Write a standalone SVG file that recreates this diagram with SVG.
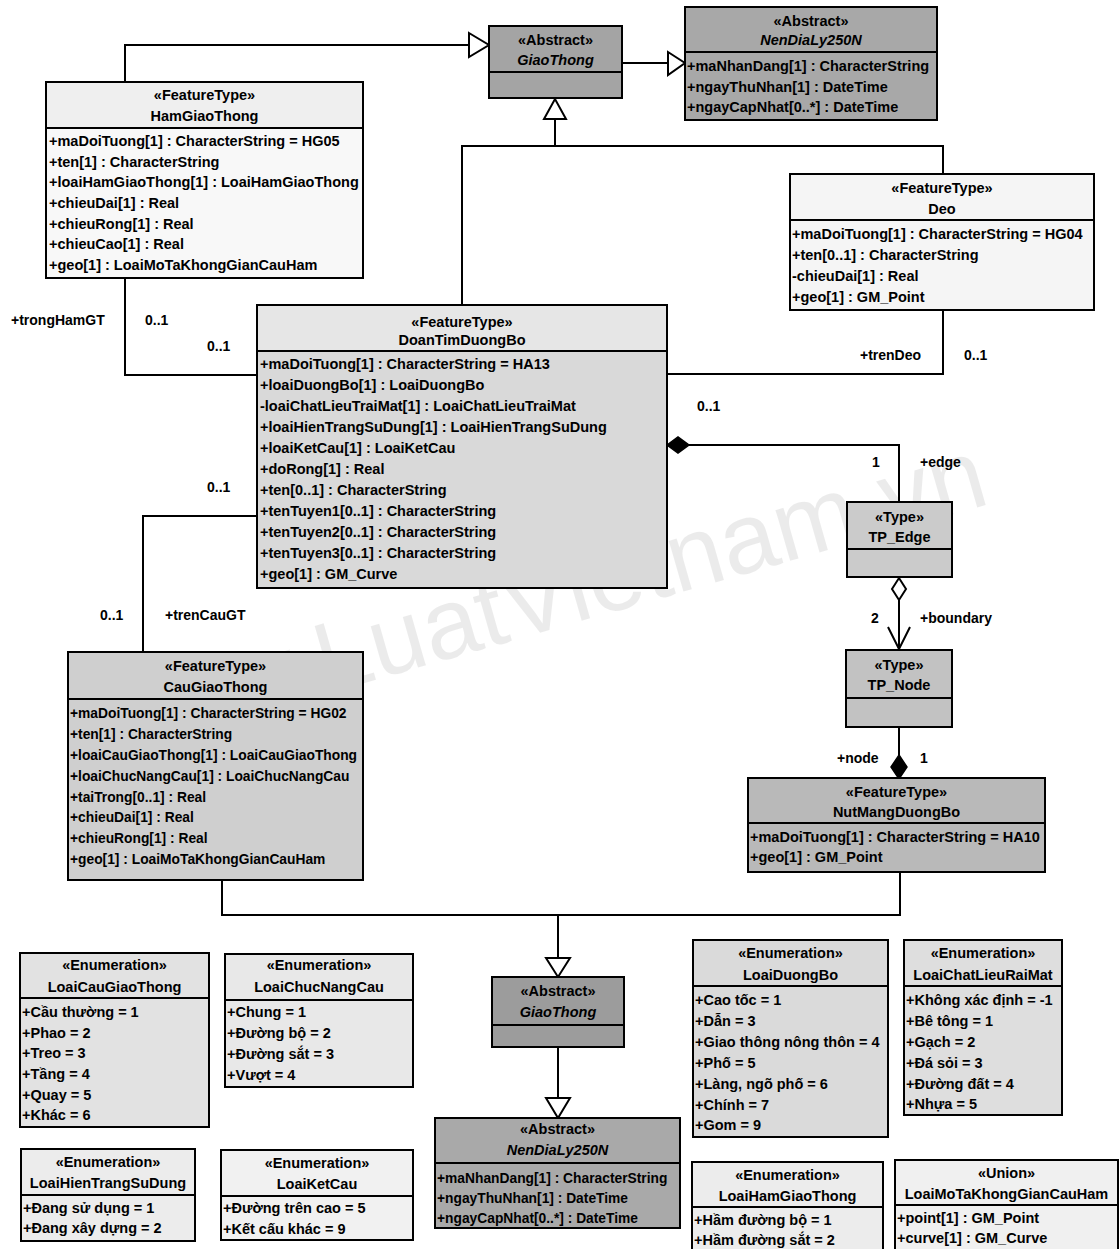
<svg xmlns="http://www.w3.org/2000/svg" width="1120" height="1249" viewBox="0 0 1120 1249">
  <style>
    text { font-family: "Liberation Sans", Arial, sans-serif; font-weight: bold; font-size: 14.5px; fill: #000; }
    .c { text-anchor: middle; }
    .i { font-style: italic; }
    .lb { font-size: 14px; }
    .tight { font-size: 13.8px; }
    .frame { fill: none; stroke: #000; stroke-width: 2; }
    .ln { fill: none; stroke: #000; stroke-width: 2; }
    .hollow { fill: #fff; stroke: #000; stroke-width: 2; stroke-linejoin: miter; }
    .solid { fill: #000; stroke: #000; stroke-width: 1.5; }
    .wm { font-family: "Liberation Sans", Arial, sans-serif; font-weight: normal; font-size: 100px; fill: #000; fill-opacity: 0.08; }
  </style>

  <rect x="0" y="0" width="1120" height="1249" fill="#fff"/>

  <!-- site watermark, behind everything -->
  <text class="wm" x="96" y="760" transform="rotate(-16 96 760)">www.LuatVietnam.vn</text>

  <!-- connectors -->
  <g id="connectors">
    <!-- HamGiaoThong generalises GiaoThong -->
    <polyline class="ln" points="125,82 125,45 469,45"/>
    <polygon class="hollow" points="469,33 489,45 469,57"/>
    <!-- GiaoThong generalises NenDiaLy250N -->
    <line class="ln" x1="622" y1="63" x2="668" y2="63"/>
    <polygon class="hollow" points="668,52 685,63 668,75"/>
    <!-- DoanTimDuongBo and Deo generalise GiaoThong -->
    <polyline class="ln" points="462,305 462,146 943,146 943,174"/>
    <line class="ln" x1="555" y1="146" x2="555" y2="119"/>
    <polygon class="hollow" points="544,119 566,119 555,99"/>
    <!-- associations onto DoanTimDuongBo -->
    <polyline class="ln" points="943,310 943,374 667,374"/>
    <polyline class="ln" points="125,278 125,375 257,375"/>
    <polyline class="ln" points="143,652 143,516 257,516"/>
    <!-- DoanTimDuongBo composes TP_Edge -->
    <polyline class="ln" points="689,445 899,445 899,502"/>
    <polygon class="solid" points="667,445 678,437 689,445 678,453"/>
    <!-- TP_Edge aggregates TP_Node -->
    <line class="ln" x1="899" y1="600" x2="899" y2="649"/>
    <polygon class="hollow" points="899,578 906,589 899,600 892,589"/>
    <polyline class="ln" points="888,627 899,649 910,627"/>
    <!-- TP_Node composed into NutMangDuongBo -->
    <line class="ln" x1="899" y1="727" x2="899" y2="756"/>
    <polygon class="solid" points="899,755 907,767 899,779 891,767"/>
    <!-- CauGiaoThong and NutMangDuongBo generalise GiaoThong -->
    <polyline class="ln" points="222,880 222,915 900,915 900,872"/>
    <line class="ln" x1="558" y1="915" x2="558" y2="958"/>
    <polygon class="hollow" points="546,958 570,958 558,977"/>
    <!-- GiaoThong generalises NenDiaLy250N -->
    <line class="ln" x1="558" y1="1047" x2="558" y2="1098"/>
    <polygon class="hollow" points="546,1098 570,1098 558,1118"/>

    <!-- role names and multiplicities -->
    <text class="lb" x="11" y="325">+trongHamGT</text>
    <text class="lb" x="145" y="325">0..1</text>
    <text class="lb" x="207" y="351">0..1</text>
    <text class="lb" x="860" y="360">+trenDeo</text>
    <text class="lb" x="964" y="360">0..1</text>
    <text class="lb" x="697" y="411">0..1</text>
    <text class="lb" x="872" y="467">1</text>
    <text class="lb" x="920" y="467">+edge</text>
    <text class="lb" x="207" y="492">0..1</text>
    <text class="lb" x="100" y="620">0..1</text>
    <text class="lb" x="165" y="620">+trenCauGT</text>
    <text class="lb" x="871" y="623">2</text>
    <text class="lb" x="920" y="623">+boundary</text>
    <text class="lb" x="837" y="763">+node</text>
    <text class="lb" x="920" y="763">1</text>
  </g>

  <!-- classes -->
  <g id="HamGiaoThong">
    <rect x="46" y="82" width="317" height="46" fill="#efefef"/>
    <rect x="46" y="128" width="317" height="150" fill="#f8f8f8"/>
    <rect class="frame" x="46" y="82" width="317" height="196"/>
    <line class="frame" x1="46" y1="128" x2="363" y2="128"/>
    <text class="c" x="204.5" y="100">«FeatureType»</text>
    <text class="c" x="204.5" y="121">HamGiaoThong</text>
    <text x="49" y="146">+maDoiTuong[1] : CharacterString = HG05</text>
    <text x="49" y="167">+ten[1] : CharacterString</text>
    <text x="49" y="187">+loaiHamGiaoThong[1] : LoaiHamGiaoThong</text>
    <text x="49" y="208">+chieuDai[1] : Real</text>
    <text x="49" y="229">+chieuRong[1] : Real</text>
    <text x="49" y="249">+chieuCao[1] : Real</text>
    <text x="49" y="270">+geo[1] : LoaiMoTaKhongGianCauHam</text>
  </g>

  <g id="GiaoThong">
    <rect x="489" y="26" width="133" height="72" fill="#a4a4a4"/>
    <rect class="frame" x="489" y="26" width="133" height="72"/>
    <line class="frame" x1="489" y1="72" x2="622" y2="72"/>
    <text class="c" x="555.5" y="45">«Abstract»</text>
    <text class="c i" x="555.5" y="65">GiaoThong</text>
  </g>

  <g id="NenDiaLy250N">
    <rect x="685" y="7" width="252" height="113" fill="#a8a8a8"/>
    <rect class="frame" x="685" y="7" width="252" height="113"/>
    <line class="frame" x1="685" y1="52" x2="937" y2="52"/>
    <text class="c" x="811" y="26">«Abstract»</text>
    <text class="c i" x="811" y="45">NenDiaLy250N</text>
    <text x="687" y="71">+maNhanDang[1] : CharacterString</text>
    <text x="687" y="92">+ngayThuNhan[1] : DateTime</text>
    <text x="687" y="112">+ngayCapNhat[0..*] : DateTime</text>
  </g>

  <g id="Deo">
    <rect x="790" y="174" width="304" height="136" fill="#f5f5f5"/>
    <rect class="frame" x="790" y="174" width="304" height="136"/>
    <line class="frame" x1="790" y1="220" x2="1094" y2="220"/>
    <text class="c" x="942" y="193">«FeatureType»</text>
    <text class="c" x="942" y="214">Deo</text>
    <text x="792" y="239">+maDoiTuong[1] : CharacterString = HG04</text>
    <text x="792" y="260">+ten[0..1] : CharacterString</text>
    <text x="792" y="281">-chieuDai[1] : Real</text>
    <text x="792" y="302">+geo[1] : GM_Point</text>
  </g>

  <g id="DoanTimDuongBo">
    <rect x="257" y="305" width="410" height="46" fill="#e6e6e6"/>
    <rect x="257" y="351" width="410" height="237" fill="#d9d9d9"/>
    <rect class="frame" x="257" y="305" width="410" height="283"/>
    <line class="frame" x1="257" y1="351" x2="667" y2="351"/>
    <text class="c" x="462" y="327">«FeatureType»</text>
    <text class="c" x="462" y="345">DoanTimDuongBo</text>
    <text x="260" y="369">+maDoiTuong[1] : CharacterString = HA13</text>
    <text x="260" y="390">+loaiDuongBo[1] : LoaiDuongBo</text>
    <text x="260" y="411">-loaiChatLieuTraiMat[1] : LoaiChatLieuTraiMat</text>
    <text x="260" y="432">+loaiHienTrangSuDung[1] : LoaiHienTrangSuDung</text>
    <text x="260" y="453">+loaiKetCau[1] : LoaiKetCau</text>
    <text x="260" y="474">+doRong[1] : Real</text>
    <text x="260" y="495">+ten[0..1] : CharacterString</text>
    <text x="260" y="516">+tenTuyen1[0..1] : CharacterString</text>
    <text x="260" y="537">+tenTuyen2[0..1] : CharacterString</text>
    <text x="260" y="558">+tenTuyen3[0..1] : CharacterString</text>
    <text x="260" y="579">+geo[1] : GM_Curve</text>
  </g>

  <g id="TP_Edge">
    <rect x="847" y="502" width="105" height="75" fill="#cbcbcb"/>
    <rect class="frame" x="847" y="502" width="105" height="75"/>
    <line class="frame" x1="847" y1="549" x2="952" y2="549"/>
    <text class="c" x="899.5" y="522">«Type»</text>
    <text class="c" x="899.5" y="542">TP_Edge</text>
  </g>

  <g id="TP_Node">
    <rect x="846" y="650" width="106" height="77" fill="#c2c2c2"/>
    <rect class="frame" x="846" y="650" width="106" height="77"/>
    <line class="frame" x1="846" y1="698" x2="952" y2="698"/>
    <text class="c" x="899" y="670">«Type»</text>
    <text class="c" x="899" y="690">TP_Node</text>
  </g>

  <g id="CauGiaoThong">
    <rect x="68" y="652" width="295" height="228" fill="#cfcfcf"/>
    <rect class="frame" x="68" y="652" width="295" height="228"/>
    <line class="frame" x1="68" y1="699" x2="363" y2="699"/>
    <text class="c" x="215.5" y="671">«FeatureType»</text>
    <text class="c" x="215.5" y="692">CauGiaoThong</text>
    <text class="tight" x="70" y="718">+maDoiTuong[1] : CharacterString = HG02</text>
    <text class="tight" x="70" y="739">+ten[1] : CharacterString</text>
    <text class="tight" x="70" y="760">+loaiCauGiaoThong[1] : LoaiCauGiaoThong</text>
    <text class="tight" x="70" y="781">+loaiChucNangCau[1] : LoaiChucNangCau</text>
    <text class="tight" x="70" y="802">+taiTrong[0..1] : Real</text>
    <text class="tight" x="70" y="822">+chieuDai[1] : Real</text>
    <text class="tight" x="70" y="843">+chieuRong[1] : Real</text>
    <text class="tight" x="70" y="864">+geo[1] : LoaiMoTaKhongGianCauHam</text>
  </g>

  <g id="NutMangDuongBo">
    <rect x="748" y="778" width="297" height="94" fill="#b9b9b9"/>
    <rect class="frame" x="748" y="778" width="297" height="94"/>
    <line class="frame" x1="748" y1="823" x2="1045" y2="823"/>
    <text class="c" x="896.5" y="797">«FeatureType»</text>
    <text class="c" x="896.5" y="817">NutMangDuongBo</text>
    <text x="750" y="842">+maDoiTuong[1] : CharacterString = HA10</text>
    <text x="750" y="862">+geo[1] : GM_Point</text>
  </g>

  <g id="GiaoThong-2">
    <rect x="492" y="977" width="132" height="70" fill="#9c9c9c"/>
    <rect class="frame" x="492" y="977" width="132" height="70"/>
    <line class="frame" x1="492" y1="1025" x2="624" y2="1025"/>
    <text class="c" x="558" y="996">«Abstract»</text>
    <text class="c i" x="558" y="1017">GiaoThong</text>
  </g>

  <g id="NenDiaLy250N-2">
    <rect x="435" y="1118" width="245" height="110" fill="#a9a9a9"/>
    <rect class="frame" x="435" y="1118" width="245" height="110"/>
    <line class="frame" x1="435" y1="1163" x2="680" y2="1163"/>
    <text class="c" x="557.5" y="1134">«Abstract»</text>
    <text class="c i" x="557.5" y="1155">NenDiaLy250N</text>
    <text class="tight" x="437" y="1183">+maNhanDang[1] : CharacterString</text>
    <text class="tight" x="437" y="1203">+ngayThuNhan[1] : DateTime</text>
    <text class="tight" x="437" y="1223">+ngayCapNhat[0..*] : DateTime</text>
  </g>

  <!-- code lists -->
  <g id="LoaiCauGiaoThong">
    <rect x="20" y="953" width="189" height="174" fill="#e2e2e2"/>
    <rect class="frame" x="20" y="953" width="189" height="174"/>
    <line class="frame" x1="20" y1="998" x2="209" y2="998"/>
    <text class="c" x="114.5" y="970">«Enumeration»</text>
    <text class="c" x="114.5" y="992">LoaiCauGiaoThong</text>
    <text x="22" y="1017">+Cầu thường = 1</text>
    <text x="22" y="1038">+Phao = 2</text>
    <text x="22" y="1058">+Treo = 3</text>
    <text x="22" y="1079">+Tầng = 4</text>
    <text x="22" y="1100">+Quay = 5</text>
    <text x="22" y="1120">+Khác = 6</text>
  </g>

  <g id="LoaiChucNangCau">
    <rect x="225" y="954" width="188" height="133" fill="#e8e8e8"/>
    <rect class="frame" x="225" y="954" width="188" height="133"/>
    <line class="frame" x1="225" y1="1000" x2="413" y2="1000"/>
    <text class="c" x="319" y="970">«Enumeration»</text>
    <text class="c" x="319" y="992">LoaiChucNangCau</text>
    <text x="227" y="1017">+Chung = 1</text>
    <text x="227" y="1038">+Đường bộ = 2</text>
    <text x="227" y="1059">+Đường sắt = 3</text>
    <text x="227" y="1080">+Vượt = 4</text>
  </g>

  <g id="LoaiHienTrangSuDung">
    <rect x="21" y="1149" width="174" height="92" fill="#ececec"/>
    <rect class="frame" x="21" y="1149" width="174" height="92"/>
    <line class="frame" x1="21" y1="1195" x2="195" y2="1195"/>
    <text class="c" x="108" y="1167">«Enumeration»</text>
    <text class="c" x="108" y="1188">LoaiHienTrangSuDung</text>
    <text x="23" y="1213">+Đang sử dụng = 1</text>
    <text x="23" y="1233">+Đang xây dựng = 2</text>
  </g>

  <g id="LoaiKetCau">
    <rect x="221" y="1150" width="192" height="90" fill="#f1f1f1"/>
    <rect class="frame" x="221" y="1150" width="192" height="90"/>
    <line class="frame" x1="221" y1="1196" x2="413" y2="1196"/>
    <text class="c" x="317" y="1168">«Enumeration»</text>
    <text class="c" x="317" y="1189">LoaiKetCau</text>
    <text x="223" y="1213">+Đường trên cao = 5</text>
    <text x="223" y="1234">+Kết cấu khác = 9</text>
  </g>

  <g id="LoaiDuongBo">
    <rect x="693" y="940" width="195" height="197" fill="#dadada"/>
    <rect class="frame" x="693" y="940" width="195" height="197"/>
    <line class="frame" x1="693" y1="986" x2="888" y2="986"/>
    <text class="c" x="790.5" y="958">«Enumeration»</text>
    <text class="c" x="790.5" y="980">LoaiDuongBo</text>
    <text x="695" y="1005">+Cao tốc = 1</text>
    <text x="695" y="1026">+Dẫn = 3</text>
    <text x="695" y="1047">+Giao thông nông thôn = 4</text>
    <text x="695" y="1068">+Phố = 5</text>
    <text x="695" y="1089">+Làng, ngõ phố = 6</text>
    <text x="695" y="1110">+Chính = 7</text>
    <text x="695" y="1130">+Gom = 9</text>
  </g>

  <g id="LoaiChatLieuRaiMat">
    <rect x="904" y="940" width="158" height="175" fill="#dedede"/>
    <rect class="frame" x="904" y="940" width="158" height="175"/>
    <line class="frame" x1="904" y1="986" x2="1062" y2="986"/>
    <text class="c" x="983" y="958">«Enumeration»</text>
    <text class="c" x="983" y="980">LoaiChatLieuRaiMat</text>
    <text x="906" y="1005">+Không xác định = -1</text>
    <text x="906" y="1026">+Bê tông = 1</text>
    <text x="906" y="1047">+Gạch = 2</text>
    <text x="906" y="1068">+Đá sỏi = 3</text>
    <text x="906" y="1089">+Đường đất = 4</text>
    <text x="906" y="1109">+Nhựa = 5</text>
  </g>

  <g id="LoaiHamGiaoThong">
    <rect x="692" y="1162" width="191" height="100" fill="#ececec"/>
    <rect class="frame" x="692" y="1162" width="191" height="100"/>
    <line class="frame" x1="692" y1="1207" x2="883" y2="1207"/>
    <text class="c" x="787.5" y="1180">«Enumeration»</text>
    <text class="c" x="787.5" y="1201">LoaiHamGiaoThong</text>
    <text x="694" y="1225">+Hầm đường bộ = 1</text>
    <text x="694" y="1245">+Hầm đường sắt = 2</text>
  </g>

  <g id="LoaiMoTaKhongGianCauHam">
    <rect x="895" y="1160" width="223" height="100" fill="#f0f0f0"/>
    <rect class="frame" x="895" y="1160" width="223" height="100"/>
    <line class="frame" x1="895" y1="1205" x2="1118" y2="1205"/>
    <text class="c" x="1006.5" y="1178">«Union»</text>
    <text class="c" x="1006.5" y="1199">LoaiMoTaKhongGianCauHam</text>
    <text x="897" y="1223">+point[1] : GM_Point</text>
    <text x="897" y="1243">+curve[1] : GM_Curve</text>
  </g>
</svg>
